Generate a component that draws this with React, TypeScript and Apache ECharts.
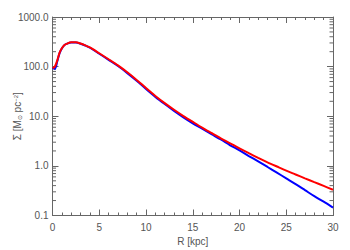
import React, { useEffect, useRef } from "react";
import * as echarts from "echarts";

const radius = [0, 0.25, 0.5, 0.75, 1, 1.25, 1.5, 2, 2.5, 3, 3.5, 4, 5, 6, 7, 8, 9, 10, 11, 12, 13, 14, 15, 16, 17, 18, 19, 20, 21, 22, 23, 24, 25, 26, 27, 28, 29, 30];
const sigmaBlue = [95, 90, 125, 185, 232, 268, 287, 308, 307, 290, 266, 240, 182, 137, 103, 74, 52, 35.5, 24.6, 17.6, 12.8, 9.5, 7.2, 5.6, 4.35, 3.4, 2.6, 2.05, 1.58, 1.23, 0.95, 0.73, 0.56, 0.43, 0.325, 0.245, 0.19, 0.144];
const sigmaRed = [93, 100, 132, 190, 234, 269, 288, 309, 309, 292, 269, 243, 186, 141, 106, 77, 54, 37, 25.7, 18.4, 13.5, 10.1, 7.7, 5.9, 4.6, 3.6, 2.85, 2.25, 1.8, 1.45, 1.18, 0.97, 0.8, 0.67, 0.56, 0.47, 0.395, 0.33];
const yMinorTicks = [0.2, 0.3, 0.4, 0.5, 0.6, 0.7, 0.8, 0.9, 2, 3, 4, 5, 6, 7, 8, 9, 20, 30, 40, 50, 60, 70, 80, 90, 200, 300, 400, 500, 600, 700, 800, 900];

const AXIS_COLOR = "#666";
const LABEL_COLOR = "#555";
const FONT = "Liberation Sans";

export default function App() {
  const ref = useRef<HTMLDivElement>(null);
  useEffect(() => {
    if (!ref.current) return;
    const chart = echarts.init(ref.current, null, { renderer: "svg" });
    const xBase = {
      type: "value" as const,
      min: 0,
      max: 30,
      interval: 5,
      axisLine: { show: true, onZero: false, lineStyle: { color: AXIS_COLOR, width: 1 } },
      axisTick: { show: true, inside: true, length: 6, lineStyle: { color: AXIS_COLOR } },
      minorTick: { show: true, splitNumber: 5, length: 3, lineStyle: { color: AXIS_COLOR } },
      splitLine: { show: false },
    };
    const yBase = {
      type: "log" as const,
      logBase: 10,
      min: 0.1,
      max: 1000,
      interval: 1,
      axisLine: { show: true, onZero: false, lineStyle: { color: AXIS_COLOR, width: 1 } },
      axisTick: { show: true, inside: true, length: 6, lineStyle: { color: AXIS_COLOR } },
      splitLine: { show: false },
    };
    chart.setOption({
      animation: false,
      backgroundColor: "#fff",
      grid: { left: 52.5, right: 17, top: 17, bottom: 34.5, containLabel: false, outerBoundsMode: "none" },
      xAxis: [
        {
          ...xBase,
          position: "bottom",
          name: "R [kpc]",
          nameLocation: "middle",
          nameGap: 21,
          nameMoveOverlap: false,
          nameTextStyle: { color: LABEL_COLOR, fontSize: 10, fontFamily: FONT },
          axisLabel: { color: LABEL_COLOR, fontSize: 10, fontFamily: FONT, margin: 7 },
        },
        { ...xBase, position: "top", axisLabel: { show: false } },
      ],
      yAxis: [
        {
          ...yBase,
          position: "left",
          name: "Σ [M{s|⊙} pc{p|−2}]",
          nameLocation: "middle",
          nameGap: 30,
          nameRotate: 90,
          nameMoveOverlap: false,
          nameTextStyle: {
            color: LABEL_COLOR,
            fontSize: 10,
            fontFamily: FONT,
            rich: {
              s: { fontSize: 6, color: LABEL_COLOR, fontFamily: FONT, verticalAlign: "bottom" },
              p: { fontSize: 6, color: LABEL_COLOR, fontFamily: FONT, verticalAlign: "top" },
            },
          },
          axisLabel: {
            color: LABEL_COLOR,
            fontSize: 10,
            fontFamily: FONT,
            margin: 4,
            formatter: (v: number) => Number(v).toFixed(1),
          },
        },
        { ...yBase, position: "right", axisLabel: { show: false } },
      ],
      series: [
        {
          type: "custom",
          silent: true,
          xAxisIndex: 0,
          yAxisIndex: 0,
          data: yMinorTicks.map((v) => [0, v]),
          renderItem: (params: any, api: any) => {
            const v = api.value(1);
            const l = api.coord([0, v]);
            const r = api.coord([30, v]);
            const style = { stroke: AXIS_COLOR, lineWidth: 1 };
            return {
              type: "group",
              children: [
                { type: "line", shape: { x1: l[0], y1: l[1], x2: l[0] + 3.5, y2: l[1] }, style },
                { type: "line", shape: { x1: r[0] - 3.5, y1: r[1], x2: r[0], y2: r[1] }, style },
              ],
            };
          },
          z: 1,
        },
        {
          type: "line",
          data: radius.map((r, i) => [r, sigmaBlue[i]]),
          showSymbol: false,
          smooth: 0.3,
          lineStyle: { color: "#0000ff", width: 2 },
          z: 2,
        },
        {
          type: "line",
          data: radius.map((r, i) => [r, sigmaRed[i]]),
          showSymbol: false,
          smooth: 0.3,
          lineStyle: { color: "#ff0000", width: 2 },
          z: 3,
        },
      ],
    });
    return () => chart.dispose();
  }, []);
  return (
    <div
      ref={ref}
      style={{ position: "fixed", left: 0, top: 0, width: 350, height: 250, background: "#fff" }}
    />
  );
}
